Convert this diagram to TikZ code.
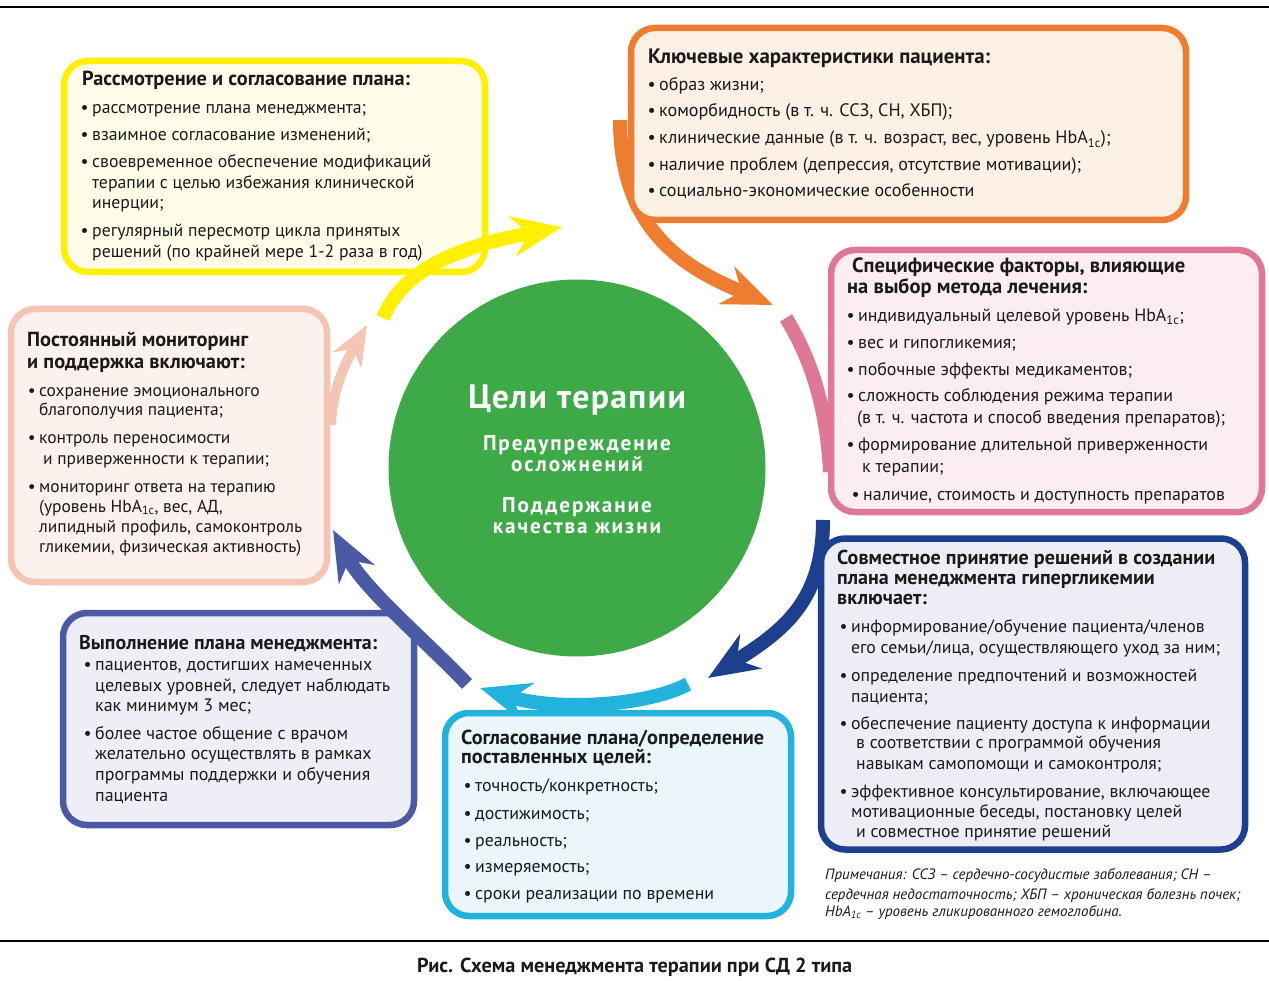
\documentclass[tikz,border=0pt]{standalone}
\usepackage{fontspec}
\setmainfont{PT Sans}
\newfontfamily\widef[LetterSpace=4]{PT Sans}
\newfontfamily\widerf[LetterSpace=9]{PT Sans}
\usetikzlibrary{arrows.meta}
\definecolor{txt}{HTML}{1A1A1A}
\definecolor{cYel}{HTML}{FFEF00}
\definecolor{cYelF}{HTML}{FFFDEA}
\definecolor{cOra}{HTML}{EE7D31}
\definecolor{cOraF}{HTML}{FDF0E5}
\definecolor{cPink}{HTML}{DE7896}
\definecolor{cPinkF}{HTML}{FCEDF1}
\definecolor{cNavy}{HTML}{1C3F8E}
\definecolor{cNavyF}{HTML}{EDEEF5}
\definecolor{cCyan}{HTML}{22B3DD}
\definecolor{cCyanF}{HTML}{EAF6FB}
\definecolor{cInd}{HTML}{4A5AA5}
\definecolor{cIndF}{HTML}{EEEEF6}
\definecolor{cPeach}{HTML}{F4C5B2}
\definecolor{cPeachF}{HTML}{FDF1EE}
\definecolor{cGreen}{HTML}{3DA947}
\newsavebox\measurebox
\newcommand\fitsz[4]{\sbox\measurebox{#2\fontsize{10pt}{12pt}\selectfont #4}\pgfmathsetmacro#1{10*#3/\the\wd\measurebox}}
\newcommand\blt{\llap{\textbullet\hspace{3.5pt}}}
\newcommand\hba{HbA\textsubscript{1c}}
\begin{document}
\fitsz\fYh{\bfseries}{328}{Рассмотрение и согласование плана:}%
\fitsz\fYb{}{339}{своевременное обеспечение модификаций}%
\fitsz\fOh{\bfseries}{342}{Ключевые характеристики пациента:}%
\fitsz\fOb{}{422}{наличие проблем (депрессия, отсутствие мотивации);}%
\fitsz\fPh{\bfseries}{333}{Специфические факторы, влияющие}%
\fitsz\fPb{}{368}{(в т. ч. частота и способ введения препаратов);}%
\fitsz\fNh{\bfseries}{378}{Совместное принятие решений в создании}%
\fitsz\fNb{}{369}{его семьи/лица, осуществляющего уход за ним;}%
\fitsz\fCh{\bfseries}{303}{Согласование плана/определение}%
\fitsz\fCb{}{239}{сроки реализации по времени}%
\fitsz\fIh{\bfseries}{298}{Выполнение плана менеджмента:}%
\fitsz\fIb{}{295}{целевых уровней, следует наблюдать}%
\fitsz\fEh{\bfseries}{221}{Постоянный мониторинг}%
\fitsz\fEb{}{263}{липидный профиль, самоконтроль}%
\fitsz\fM{\itshape}{415}{сердечная недостаточность; ХБП – хроническая болезнь почек;}%
\fitsz\fCap{\bfseries}{435}{Рис. Схема менеджмента терапии при СД 2 типа}%
\fitsz\fGa{\widef\bfseries}{218}{Цели терапии}%
\fitsz\fGb{\widerf\bfseries}{188}{Предупреждение}%
\begin{tikzpicture}[x=1pt,y=-1pt,
  ln/.style={anchor=west, inner sep=0pt, text height=12pt, text depth=4pt, text=txt},
  panel/.style 2 args={draw=#1, fill=#2, line width=6.5pt, rounded corners=24pt, inner sep=0pt},
  flow/.style={line width=14pt, -{Stealth[length=50pt,width=40pt,inset=16pt]}},
  yh/.style={ln, font=\bfseries\fontsize{\fYh}{\fYh}\selectfont},
  yb/.style={ln, font=\fontsize{\fYb}{\fYb}\selectfont},
  oh/.style={ln, font=\bfseries\fontsize{\fOh}{\fOh}\selectfont},
  ob/.style={ln, font=\fontsize{\fOb}{\fOb}\selectfont},
  ph/.style={ln, font=\bfseries\fontsize{\fPh}{\fPh}\selectfont},
  pb/.style={ln, font=\fontsize{\fPb}{\fPb}\selectfont},
  nh/.style={ln, font=\bfseries\fontsize{\fNh}{\fNh}\selectfont},
  nb/.style={ln, font=\fontsize{\fNb}{\fNb}\selectfont},
  ch/.style={ln, font=\bfseries\fontsize{\fCh}{\fCh}\selectfont},
  cb/.style={ln, font=\fontsize{\fCb}{\fCb}\selectfont},
  ih/.style={ln, font=\bfseries\fontsize{\fIh}{\fIh}\selectfont},
  ib/.style={ln, font=\fontsize{\fIb}{\fIb}\selectfont},
  eh/.style={ln, font=\bfseries\fontsize{\fEh}{\fEh}\selectfont},
  eb/.style={ln, font=\fontsize{\fEb}{\fEb}\selectfont},
  mt/.style={ln, text height=10pt, text depth=3.5pt, font=\itshape\fontsize{\fM}{\fM}\selectfont},
  gt/.style={anchor=base, inner sep=0pt, text=white, font=\widerf\bfseries\fontsize{\fGb}{\fGb}\selectfont},
]
\useasboundingbox (0,0) rectangle (1269,981);
\fill[white] (0,0) rectangle (1269,981);
% frame lines
\coordinate (tl) at (0,7); \coordinate (tr) at (1269,7);
\coordinate (bl) at (0,941); \coordinate (br) at (1269,941);
\draw[line width=1.3pt, black] (tl) -- (tr);
\draw[line width=1.3pt, black] (bl) -- (br);

% central circle
\node[circle, fill=cGreen, minimum size=377pt, inner sep=0pt] (goal) at (577,468) {};

% arrows drawn under boxes
\coordinate (cyS) at (688,684); \coordinate (cyE) at (480,688);
\draw[flow, cCyan] (cyS) .. controls (650,705) and (560,712) .. (cyE);
\coordinate (pkS) at (786,318); \coordinate (pkE) at (830,472);
\draw[line width=14pt, cPink] (pkS) .. controls (812,360) and (827,410) .. (pkE);
\coordinate (orS) at (620,120); \coordinate (orE) at (773,305);
\draw[flow, cOra] (orS) .. controls (620,235) and (690,270) .. (orE);
\coordinate (nvS) at (823,520); \coordinate (nvE) at (708,678);
\draw[flow, cNavy] (nvS) .. controls (823,600) and (785,630) .. (nvE);

% boxes
\node[panel={cYel}{cYelF}, minimum width=421pt, minimum height=211pt] (ybox) at (274.5,166.5) {};
\node[panel={cOra}{cOraF}, minimum width=555pt, minimum height=192pt] (obox) at (908.5,124) {};
\node[panel={cPink}{cPinkF}, minimum width=431pt, minimum height=262pt] (pbox) at (1046.5,381) {};
\node[panel={cNavy}{cNavyF}, minimum width=424pt, minimum height=311pt] (nbox) at (1033,694) {};
\node[panel={cCyan}{cCyanF}, minimum width=346pt, minimum height=203pt] (cbox) at (618,814.5) {};
\node[panel={cInd}{cIndF}, minimum width=351pt, minimum height=212pt] (ibox) at (238.5,719) {};
\node[panel={cPeach}{cPeachF}, minimum width=316pt, minimum height=273pt] (ebox) at (169,445.5) {};

% arrows drawn over boxes
\coordinate (ylS) at (383,318); \coordinate (ylE) at (562,227);
\draw[flow, cYel] (ylS) .. controls (400,278) and (440,250) .. (ylE);
\coordinate (inS) at (467,684); \coordinate (inE) at (333,530);
\draw[flow, cInd] (inS) .. controls (425,640) and (365,590) .. (inE);
\coordinate (peS) at (331,425); \coordinate (peE) at (367,325);
\draw[line width=10pt, cPeach, -{Stealth[length=40pt,width=32pt,inset=12pt]}] (peS) .. controls (332,385) and (350,355) .. (peE);

% circle text
\node[gt, font=\widef\bfseries\fontsize{\fGa}{\fGa}\selectfont] (g0) at (577,409) {Цели терапии};
\node[gt] (g1) at (577,450) {Предупреждение};
\node[gt] (g2) at (577,471) {осложнений};
\node[gt] (g3) at (577,512) {Поддержание};
\node[gt] (g4) at (577,533) {качества жизни};

% yellow box text
\node[yh] (y0) at (82,82) {Рассмотрение и согласование плана:};
\node[yb] (y1) at (92,110) {\blt рассмотрение плана менеджмента;};
\node[yb] (y2) at (92,137) {\blt взаимное согласование изменений;};
\node[yb] (y3) at (92,164) {\blt своевременное обеспечение модификаций};
\node[yb] (y4) at (92,185) {терапии с целью избежания клинической};
\node[yb] (y5) at (92,205) {инерции;};
\node[yb] (y6) at (92,233) {\blt регулярный пересмотр цикла принятых};
\node[yb] (y7) at (92,254) {решений (по крайней мере 1-2 раза в год)};

% orange box text
\node[oh] (o0) at (648,60) {Ключевые характеристики пациента:};
\node[ob] (o1) at (659,87) {\blt образ жизни;};
\node[ob] (o2) at (659,113) {\blt коморбидность (в т. ч. ССЗ, СН, ХБП);};
\node[ob] (o3) at (659,140) {\blt клинические данные (в т. ч. возраст, вес, уровень \hba);};
\node[ob] (o4) at (659,167) {\blt наличие проблем (депрессия, отсутствие мотивации);};
\node[ob] (o5) at (659,193) {\blt социально-экономические особенности};

% pink box text
\node[ph] (p0) at (852,269) {Специфические факторы, влияющие};
\node[ph] (p0b) at (847,290) {на выбор метода лечения:};
\node[pb] (p1) at (858,318) {\blt индивидуальный целевой уровень \hba;};
\node[pb] (p2) at (858,345) {\blt вес и гипогликемия;};
\node[pb] (p3) at (858,372) {\blt побочные эффекты медикаментов;};
\node[pb] (p4) at (858,398) {\blt сложность соблюдения режима терапии};
\node[pb] (p5) at (857,420) {(в т. ч. частота и способ введения препаратов);};
\node[pb] (p6) at (858,446) {\blt формирование длительной приверженности};
\node[pb] (p7) at (862,468) {к терапии;};
\node[pb] (p8) at (863,496) {\blt наличие, стоимость и доступность препаратов};

% navy box text
\node[nh] (n0) at (837,560) {Совместное принятие решений в создании};
\node[nh] (n0b) at (837,580) {плана менеджмента гипергликемии};
\node[nh] (n0c) at (837,600) {включает:};
\node[nb] (n1) at (851,628) {\blt информирование/обучение пациента/членов};
\node[nb] (n2) at (851,649) {его семьи/лица, осуществляющего уход за ним;};
\node[nb] (n3) at (851,677) {\blt определение предпочтений и возможностей};
\node[nb] (n4) at (851,698) {пациента;};
\node[nb] (n5) at (851,725) {\blt обеспечение пациенту доступа к информации};
\node[nb] (n6) at (856,744) {в соответствии с программой обучения};
\node[nb] (n7) at (856,765) {навыкам самопомощи и самоконтроля;};
\node[nb] (n8) at (851,793) {\blt эффективное консультирование, включающее};
\node[nb] (n9) at (851,813) {мотивационные беседы, постановку целей};
\node[nb] (n10) at (856,833) {и совместное принятие решений};

% notes
\node[mt] (m1) at (825,876) {Примечания: ССЗ – сердечно-сосудистые заболевания; СН –};
\node[mt] (m2) at (825,896) {сердечная недостаточность; ХБП – хроническая болезнь почек;};
\node[mt] (m3) at (825,913) {\hba{} – уровень гликированного гемоглобина.};

% cyan box text
\node[ch] (c0) at (461,740) {Согласование плана/определение};
\node[ch] (c0b) at (461,759) {поставленных целей:};
\node[cb] (c1) at (475,787) {\blt точность/конкретность;};
\node[cb] (c2) at (475,815) {\blt достижимость;};
\node[cb] (c3) at (475,842) {\blt реальность;};
\node[cb] (c4) at (475,868) {\blt измеряемость;};
\node[cb] (c5) at (475,895) {\blt сроки реализации по времени};

% indigo box text
\node[ih] (i0) at (79,645) {Выполнение плана менеджмента:};
\node[ib] (i1) at (95,666) {\blt пациентов, достигших намеченных};
\node[ib] (i2) at (95,687) {целевых уровней, следует наблюдать};
\node[ib] (i3) at (95,707) {как минимум 3 мес;};
\node[ib] (i4) at (95,735) {\blt более частое общение с врачом};
\node[ib] (i5) at (95,755) {желательно осуществлять в рамках};
\node[ib] (i6) at (95,776) {программы поддержки и обучения};
\node[ib] (i7) at (95,797) {пациента};

% peach box text
\node[eh] (e0) at (27,343) {Постоянный мониторинг};
\node[eh] (e0b) at (27,365) {и поддержка включают:};
\node[eb] (e1) at (39,392) {\blt сохранение эмоционального};
\node[eb] (e2) at (39,412) {благополучия пациента;};
\node[eb] (e3) at (39,439) {\blt контроль переносимости};
\node[eb] (e4) at (43,460) {и приверженности к терапии;};
\node[eb] (e5) at (39,488) {\blt мониторинг ответа на терапию};
\node[eb] (e6) at (39,508) {(уровень \hba, вес, АД,};
\node[eb] (e7) at (39,528) {липидный профиль, самоконтроль};
\node[eb] (e8) at (39,548) {гликемии, физическая активность)};

% caption
\node[ln, font=\bfseries\fontsize{\fCap}{\fCap}\selectfont] (cap) at (417,968) {Рис. Схема менеджмента терапии при СД 2 типа};
\end{tikzpicture}
\end{document}
